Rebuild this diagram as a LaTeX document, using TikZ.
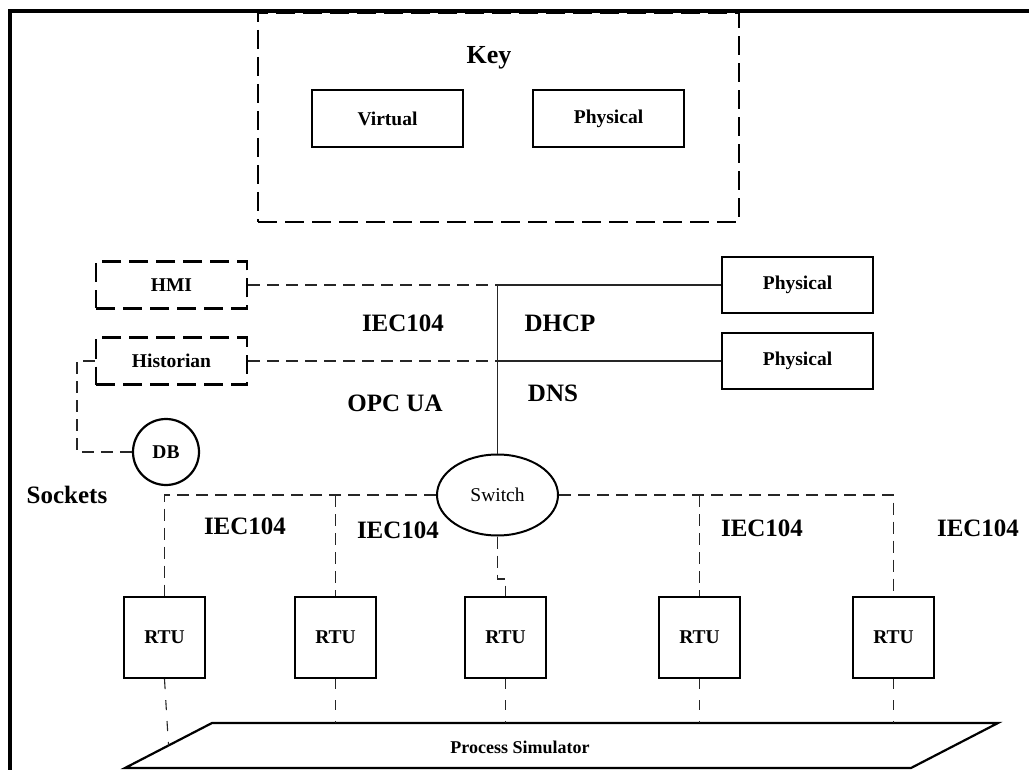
\documentclass[tikz,border=0pt]{standalone}
\usepackage{fontspec}
\setmainfont{Liberation Serif}
\usetikzlibrary{shapes.geometric}
\begin{document}
\begin{tikzpicture}[x=1pt,y=-1pt,
  box/.style={draw,line width=2.2pt,inner sep=0pt,font=\bfseries\fontsize{19.5}{21}\selectfont},
  vbox/.style={box,dash pattern=on 19pt off 8pt},
  rtu/.style={box,minimum width=81pt,minimum height=81pt},
  lbl/.style={inner sep=0pt,font=\bfseries\fontsize{25}{27}\selectfont},
  dline/.style={draw=black!85,line width=1.6pt,dash pattern=on 12pt off 7pt},
  sline/.style={draw=black!85,line width=1.4pt},
  thin dline/.style={draw=black!85,line width=1.1pt,dash pattern=on 10pt off 11pt}]
\useasboundingbox (0,0) rectangle (1029,770);

% outer frame (top and left edges)
\draw[line width=3.2pt] (10,770) -- (10,11) -- (1029,11);

% legend
\node[vbox,minimum width=481pt,minimum height=209pt] (key) at (498.5,117.5) {};
\node[lbl,font=\bfseries\fontsize{26}{28}\selectfont] (keytitle) at (489,58) {Key};
\node[box,minimum width=151pt,minimum height=57pt] (kvirt) at (387.5,118.5) {Virtual};
\node[box,minimum width=151pt,minimum height=57pt] (kphys) at (608.5,118.5) {Physical};

% virtual hosts
\node[vbox,minimum width=151pt,minimum height=47pt] (hmi) at (171.5,285) {HMI};
\node[vbox,minimum width=151pt,minimum height=47pt] (hist) at (171.5,361) {Historian};
\node[box,circle,minimum size=66pt] (db) at (166,452) {DB};

% physical hosts
\node[box,minimum width=151pt,minimum height=56pt] (phys1) at (797.5,285) {Physical};
\node[box,minimum width=151pt,minimum height=56pt] (phys2) at (797.5,361) {Physical};

% switch
\node[draw,ellipse,line width=2pt,inner sep=0pt,minimum width=121pt,minimum height=81pt,
      font=\fontsize{19.5}{21}\selectfont] (sw) at (497.5,495) {Switch};

% RTUs
\node[rtu] (rtu1) at (164.5,637.5) {RTU};
\node[rtu] (rtu2) at (335.5,637.5) {RTU};
\node[rtu] (rtu3) at (505.5,637.5) {RTU};
\node[rtu] (rtu4) at (699.5,637.5) {RTU};
\node[rtu] (rtu5) at (893.5,637.5) {RTU};

% process simulator
\coordinate (ps1) at (212,723);
\coordinate (ps2) at (998,723);
\coordinate (ps3) at (911,768);
\coordinate (ps4) at (125,768);
\draw[line width=2.2pt,line join=miter] (ps1) -- (ps2) -- (ps3) -- (ps4) -- cycle;
\node[inner sep=0pt,font=\bfseries\fontsize{18}{20}\selectfont] (psim) at (520,747) {Process Simulator};
\path (ps1) -- (ps4) coordinate[pos=0.5] (psl);

% protocol labels
\node[lbl] (l1) at (403,323) {IEC104};
\node[lbl] (l2) at (560,323) {DHCP};
\node[lbl] (l3) at (395,403) {OPC UA};
\node[lbl] (l4) at (553,393) {DNS};
\node[lbl] (l5) at (67,495) {Sockets};
\node[lbl] (l6) at (245,526) {IEC104};
\node[lbl] (l7) at (398,530) {IEC104};
\node[lbl] (l8) at (762,528) {IEC104};
\node[lbl] (l9) at (978,528) {IEC104};

% upper links
\coordinate (j1) at (sw.north |- hmi.east);
\coordinate (j2) at (sw.north |- hist.east);
\draw[dline] (hmi.east) -- (j1);
\draw[sline] (j1) -- (phys1.west);
\draw[dline] (hist.east) -- (j2);
\draw[sline] (j2) -- (phys2.west);
\draw[sline] (j1) -- (sw.north);
\draw[dline] (hist.west) -- ++(-18,0) |- (db.west);

% field bus
\coordinate (b1) at (rtu1.north |- sw.west);
\coordinate (b2) at (rtu2.north |- sw.west);
\coordinate (b4) at (rtu4.north |- sw.east);
\coordinate (b5) at (rtu5.north |- sw.east);
\draw[dline] (sw.west) -- (b1) -- (rtu1.north);
\draw[dline] (b2) -- (rtu2.north);
\draw[dline] (sw.east) -- (b5) -- (rtu5.north);
\draw[dline] (b4) -- (rtu4.north);
\draw[dline] (sw.south) -- (sw.south |- 0,579) -| (rtu3.north);

% RTU to simulator
\draw[thin dline] (rtu1.south) -- (psl);
\draw[thin dline] (rtu2.south) -- (rtu2.south |- ps1);
\draw[thin dline] (rtu3.south) -- (rtu3.south |- ps1);
\draw[thin dline] (rtu4.south) -- (rtu4.south |- ps1);
\draw[thin dline] (rtu5.south) -- (rtu5.south |- ps1);
\end{tikzpicture}
\end{document}
